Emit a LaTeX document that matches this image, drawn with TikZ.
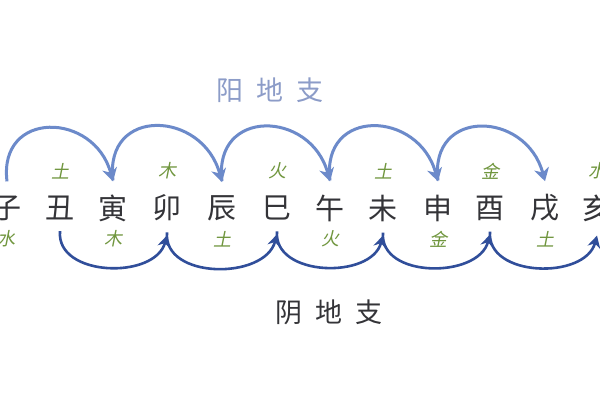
\documentclass[tikz,border=0pt]{standalone}
\usepackage{fontspec}
\usetikzlibrary{arrows.meta}
\newfontfamily\cjk{Noto Sans CJK SC}
\newfontfamily\cjkslant[FakeSlant=0.2]{Noto Sans CJK SC}
\definecolor{yangblue}{RGB}{108,138,202}
\definecolor{yinblue}{RGB}{48,78,154}
\definecolor{titleblue}{RGB}{140,156,200}
\definecolor{inkgray}{RGB}{52,52,56}
\definecolor{wuxing}{RGB}{112,150,62}

\begin{document}
\begin{tikzpicture}[x=1pt,y=-1pt,
  branch/.style={font=\cjk\fontsize{29}{29}\selectfont, text=inkgray, inner sep=1pt},
  elem/.style={font=\cjkslant\fontsize{18}{18}\selectfont, text=wuxing, inner sep=1pt},
  heading/.style={font=\cjk\fontsize{27}{27}\selectfont, inner sep=1pt},
  yangarc/.style={yangblue, line width=3pt, -{Stealth[length=13pt,width=15pt,inset=4pt]}},
  yinarc/.style={yinblue, line width=2.6pt, -{Stealth[length=12pt,width=13pt,inset=4pt]}}]

\useasboundingbox[fill=white] (0,0) rectangle (600,400);

% the twelve branches
\node[branch] (zi)   at (7,208)   {子};
\node[branch] (chou) at (60,208)  {丑};
\node[branch] (yin)  at (113,208) {寅};
\node[branch] (mao)  at (167,208) {卯};
\node[branch] (chen) at (222,208) {辰};
\node[branch] (si)   at (277,208) {巳};
\node[branch] (wu)   at (330,208) {午};
\node[branch] (wei)  at (383,208) {未};
\node[branch] (shen) at (438,208) {申};
\node[branch] (you)  at (490,208) {酉};
\node[branch] (xu)   at (545,208) {戌};
\node[branch] (hai)  at (597,208) {亥};

% elements above the yin branches
\node[elem] (chou-up) at (60,171)  {土};
\node[elem] (mao-up)  at (167,171) {木};
\node[elem] (si-up)   at (277,171) {火};
\node[elem] (wei-up)  at (383,171) {土};
\node[elem] (you-up)  at (490,171) {金};
\node[elem] (hai-up)  at (597,171) {水};

% elements below the yang branches
\node[elem] (zi-down)   at (7,239)   {水};
\node[elem] (yin-down)  at (113,239) {木};
\node[elem] (chen-down) at (222,239) {土};
\node[elem] (wu-down)   at (330,239) {火};
\node[elem] (shen-down) at (438,239) {金};
\node[elem] (xu-down)   at (545,239) {土};

\node[heading, text=titleblue] (yangtitle) at (270,90)  {阳\hspace{13pt}地\hspace{13pt}支};
\node[heading, text=inkgray]   (yintitle)  at (329,312) {阴\hspace{13pt}地\hspace{13pt}支};

\begin{scope}[looseness=1.75]
\draw[yangarc] ([yshift=13pt]zi.north)   to[out=97,in=105] ([yshift=12pt]yin.north);
\draw[yangarc] ([yshift=13pt]yin.north)  to[out=97,in=105] ([yshift=12pt]chen.north);
\draw[yangarc] ([yshift=13pt]chen.north) to[out=97,in=105] ([yshift=12pt]wu.north);
\draw[yangarc] ([yshift=13pt]wu.north)   to[out=97,in=105] ([yshift=12pt]shen.north);
\draw[yangarc] ([yshift=13pt]shen.north) to[out=97,in=105] ([yshift=12pt]xu.north);
\end{scope}

\begin{scope}[looseness=1.1]
\draw[yinarc] ([yshift=-10pt]chou.south) to[out=-95,in=-105] ([yshift=-13pt]mao.south);
\draw[yinarc] ([yshift=-10pt]mao.south)  to[out=-95,in=-105] ([yshift=-13pt]si.south);
\draw[yinarc] ([yshift=-10pt]si.south)   to[out=-95,in=-105] ([yshift=-13pt]wei.south);
\draw[yinarc] ([yshift=-10pt]wei.south)  to[out=-95,in=-105] ([yshift=-13pt]you.south);
\draw[yinarc] ([yshift=-10pt]you.south)  to[out=-95,in=-105] ([yshift=-13pt]hai.south);
\end{scope}
\end{tikzpicture}
\end{document}
